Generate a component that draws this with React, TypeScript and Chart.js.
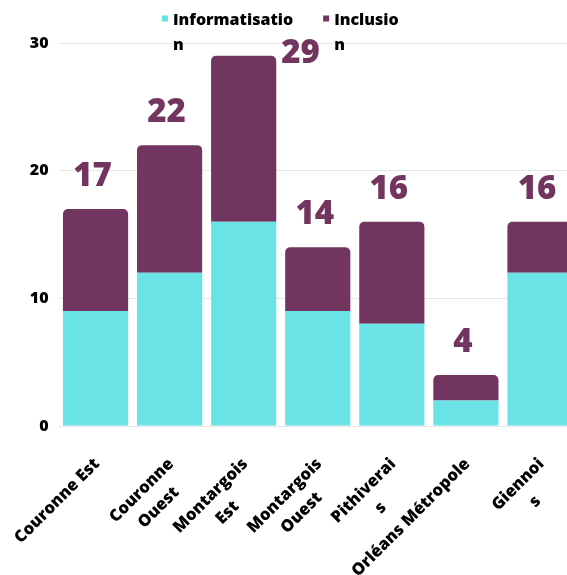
import React, { useEffect, useRef } from 'react';
import { Chart, registerables } from 'chart.js';

Chart.register(...registerables);

// ---- data ----
const categoryLines: string[][] = [
  ['Couronne Est'],
  ['Couronne', 'Ouest'],
  ['Montargois', 'Est'],
  ['Montargois', 'Ouest'],
  ['Pithiverai', 's'],
  ['Orléans Métropole'],
  ['Giennoi', 's'],
];
const informatisation = [9, 12, 16, 9, 8, 2, 12];
const inclusion = [8, 10, 13, 5, 8, 2, 4];
const seriesNames = ['Informatisation', 'Inclusion'];
const legendLines: string[][] = [
  ['Informatisatio', 'n'],
  ['Inclusio', 'n'],
];
const yMin = 0;
const yMax = 30;
const yStep = 10;

// ---- styles ----
const CYAN = '#6AE3E6';
const PURPLE = '#72355F';
const FONT = '"Open Sans", "DejaVu Sans", sans-serif';
const W = 800;

const legendPlugin = {
  id: 'customLegend',
  afterDraw(chart: any) {
    const { ctx } = chart;
    const colors = [CYAN, PURPLE];
    ctx.save();
    ctx.font = `${W} 16px ${FONT}`;
    ctx.textBaseline = 'alphabetic';
    ctx.textAlign = 'left';
    let x = 162;
    legendLines.forEach((lines, i) => {
      ctx.fillStyle = colors[i];
      ctx.fillRect(x, 15.5, 6, 6);
      ctx.fillStyle = '#000';
      const tx = x + 11;
      lines.forEach((l, j) => ctx.fillText(l, tx, 25 + j * 25));
      const w = Math.max(...lines.map((l) => ctx.measureText(l).width));
      x = tx + w + 30;
    });
    ctx.restore();
  },
};

const totalsPlugin = {
  id: 'totals',
  afterDatasetsDraw(chart: any) {
    const { ctx, chartArea } = chart;
    const meta = chart.getDatasetMeta(1);
    ctx.save();
    ctx.font = `${W} 33px ${FONT}`;
    ctx.fillStyle = PURPLE;
    ctx.textBaseline = 'alphabetic';
    meta.data.forEach((bar: any, i: number) => {
      const total = informatisation[i] + inclusion[i];
      const baseY = bar.y - 23;
      if (baseY - 24 < chartArea.top) {
        ctx.textAlign = 'left';
        ctx.fillText(String(total), bar.x + bar.width / 2 + 5, bar.y + 7);
      } else {
        ctx.textAlign = 'center';
        ctx.fillText(String(total), bar.x - 3, baseY);
      }
    });
    ctx.restore();
  },
};

const xLabelPlugin = {
  id: 'xLabels',
  afterDraw(chart: any) {
    const { ctx, chartArea } = chart;
    const xs = chart.scales.x;
    ctx.save();
    ctx.font = `${W} 16.5px ${FONT}`;
    ctx.fillStyle = '#000';
    ctx.textBaseline = 'middle';
    ctx.textAlign = 'center';
    categoryLines.forEach((lines, i) => {
      const px = xs.getPixelForTick(i);
      const w = Math.max(...lines.map((l) => ctx.measureText(l).width));
      ctx.save();
      ctx.translate(px, chartArea.bottom);
      ctx.rotate(-Math.PI / 4);
      lines.forEach((l, j) => ctx.fillText(l, -24 - w / 2, 26 + j * 24));
      ctx.restore();
    });
    ctx.restore();
  },
};

export default function App() {
  const ref = useRef<HTMLCanvasElement | null>(null);

  useEffect(() => {
    if (!ref.current) return;
    const chart = new Chart(ref.current, {
      type: 'bar',
      data: {
        labels: categoryLines.map((l) => l.join(' ')),
        datasets: [
          {
            label: seriesNames[0],
            data: informatisation,
            backgroundColor: CYAN,
            borderWidth: 0,
            stack: 's',
          },
          {
            label: seriesNames[1],
            data: inclusion,
            backgroundColor: PURPLE,
            borderWidth: 0,
            borderRadius: 5,
            stack: 's',
          },
        ],
      },
      options: {
        animation: false,
        responsive: false,
        devicePixelRatio: 1,
        layout: { padding: { top: 43, right: 3, left: 0, bottom: 0 } },
        datasets: { bar: { barPercentage: 0.88, categoryPercentage: 1 } },
        plugins: {
          legend: { display: false },
          tooltip: { enabled: false },
        },
        scales: {
          x: {
            stacked: true,
            grid: { display: false },
            border: { display: false },
            ticks: { display: false },
            afterFit: (s: any) => {
              s.height = 149;
            },
          },
          y: {
            stacked: true,
            min: yMin,
            max: yMax,
            grid: { color: '#e6e6e6', drawTicks: false, lineWidth: 1 },
            border: { display: false },
            ticks: {
              stepSize: yStep,
              padding: 10,
              color: '#000',
              font: { family: FONT, size: 16, weight: W },
            },
            afterFit: (s: any) => {
              s.width = 58.5;
            },
          },
        },
      },
      plugins: [totalsPlugin, legendPlugin, xLabelPlugin],
    } as any);
    return () => chart.destroy();
  }, []);

  return (
    <div
      style={{
        position: 'fixed',
        left: 0,
        top: 0,
        width: 567,
        height: 575,
        overflow: 'hidden',
        background: '#fff',
      }}
    >
      <canvas
        ref={ref}
        width={580}
        height={575}
        style={{ display: 'block', width: 580, height: 575 }}
      />
    </div>
  );
}
